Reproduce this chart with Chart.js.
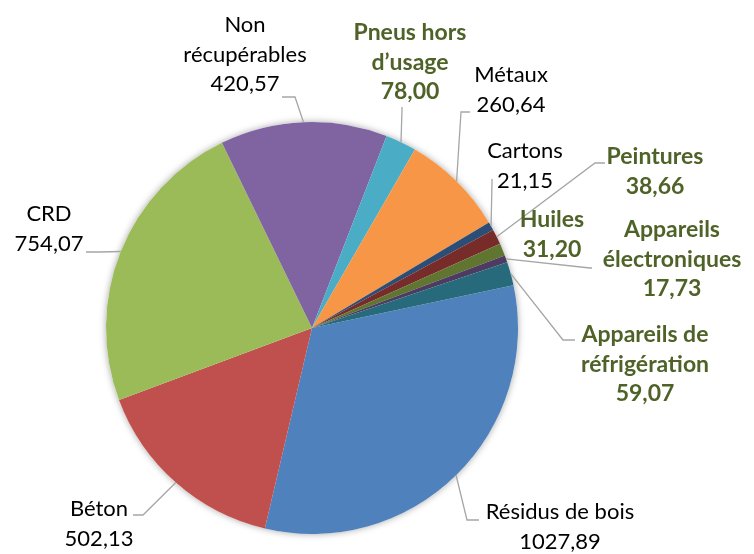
<!DOCTYPE html>
<html>
<head>
<meta charset="utf-8">
<script src="https://cdn.jsdelivr.net/npm/chart.js@4.4.1/dist/chart.umd.min.js"></script>
<style>
  html, body { margin: 0; padding: 0; background: #fff; }
  #wrap { width: 754px; height: 554px; }
</style>
</head>
<body>
<div id="wrap"><canvas id="wasteChart" width="754" height="554"></canvas></div>
<script>
// data, in drawing order (clockwise from the first slice)
const categories = [
  "Résidus de bois", "Béton", "CRD", "Non récupérables", "Pneus hors d’usage",
  "Métaux", "Cartons", "Peintures", "Huiles", "Appareils électroniques",
  "Appareils de réfrigération"
];
const tonnages = [1027.89, 502.13, 754.07, 420.57, 78.00, 260.64, 21.15, 38.66, 31.20, 17.73, 59.07];
const sliceColors = [
  "#4F81BD", "#C0504D", "#9BBB59", "#8064A2", "#4BACC6", "#F79646",
  "#2C4D75", "#772C2A", "#5F7530", "#4D3B62", "#276A7C"
];
// true = label in bold green
const boldLabels = [false, false, false, false, true, false, false, true, true, true, true];

// label placement: text lines, centre x, first line y, leader elbow + end
const labelLayout = [
  { lines: ["Résidus de bois"], x: 560, y: 512, elbow: [467, 520], end: [479, 520] },
  { lines: ["Béton"], x: 99, y: 509, elbow: [143, 515], end: [133, 515] },
  { lines: ["CRD"], x: 49, y: 214, elbow: [100, 252], end: [86, 252] },
  { lines: ["Non", "récupérables"], x: 245, y: 25, elbow: [295, 97], end: [282, 97] },
  { lines: ["Pneus hors", "d’usage"], x: 410, y: 33, elbow: [402, 110], end: [402, 107] },
  { lines: ["Métaux"], x: 511, y: 75, elbow: [461, 112], end: [470, 112] },
  { lines: ["Cartons"], x: 525, y: 151, elbow: [492, 182], end: [492, 179] },
  { lines: ["Peintures"], x: 655, y: 157, elbow: [595, 163], end: [605, 163] },
  { lines: ["Huiles"], x: 552, y: 220, elbow: null, end: null },
  { lines: ["Appareils", "électroniques"], x: 672, y: 230, elbow: [590, 268], end: [592, 268] },
  { lines: ["Appareils de", "réfrigération"], x: 645, y: 335, elbow: [563, 340], end: [575, 340] }
];

function fmt(v) {
  return v.toFixed(2).replace(".", ",");
}

// soft shadow round the pie
const pieShadow = {
  id: "pieShadow",
  beforeDatasetsDraw(chart) {
    const arc = chart.getDatasetMeta(0).data[0];
    const c = chart.ctx;
    c.save();
    c.shadowColor = "rgba(0,0,0,0.35)";
    c.shadowBlur = 7;
    c.beginPath();
    c.arc(arc.x, arc.y, arc.outerRadius, 0, Math.PI * 2);
    c.fillStyle = "#fff";
    c.fill();
    c.restore();
  }
};

// data labels with leader lines
const pieLabels = {
  id: "pieLabels",
  afterDatasetsDraw(chart) {
    const c = chart.ctx;
    const meta = chart.getDatasetMeta(0);
    meta.data.forEach((arc, i) => {
      const lay = labelLayout[i];
      const mid = (arc.startAngle + arc.endAngle) / 2;
      const sx = arc.x + Math.cos(mid) * arc.outerRadius;
      const sy = arc.y + Math.sin(mid) * arc.outerRadius;
      if (lay.elbow) {
        c.save();
        c.strokeStyle = "#A6A6A6";
        c.lineWidth = 1.3;
        c.beginPath();
        c.moveTo(sx, sy);
        c.lineTo(lay.elbow[0], lay.elbow[1]);
        c.lineTo(lay.end[0], lay.end[1]);
        c.stroke();
        c.restore();
      }
      const lines = lay.lines.concat([fmt(tonnages[i])]);
      c.save();
      c.textAlign = "center";
      c.textBaseline = "middle";
      if (boldLabels[i]) {
        c.font = "bold 23px Lato";
        c.fillStyle = "#4F6228";
      } else {
        c.font = "22px Lato";
        c.fillStyle = "#000";
      }
      lines.forEach((t, k) => c.fillText(t, lay.x, lay.y + k * 29.5));
      c.restore();
    });
  }
};

const ctx = document.getElementById("wasteChart").getContext("2d");
const wasteChart = new Chart(ctx, {
  type: "pie",
  data: {
    labels: categories,
    datasets: [
      {
        data: tonnages,
        backgroundColor: sliceColors,
        borderWidth: 0
      }
    ]
  },
  options: {
    responsive: false,
    animation: false,
    rotation: 78,
    layout: {
      padding: { left: 106, right: 236, top: 122, bottom: 20 }
    },
    plugins: {
      legend: { display: false },
      tooltip: { enabled: false },
      title: { display: false }
    }
  },
  plugins: [pieShadow, pieLabels]
});
</script>
</body>
</html>
